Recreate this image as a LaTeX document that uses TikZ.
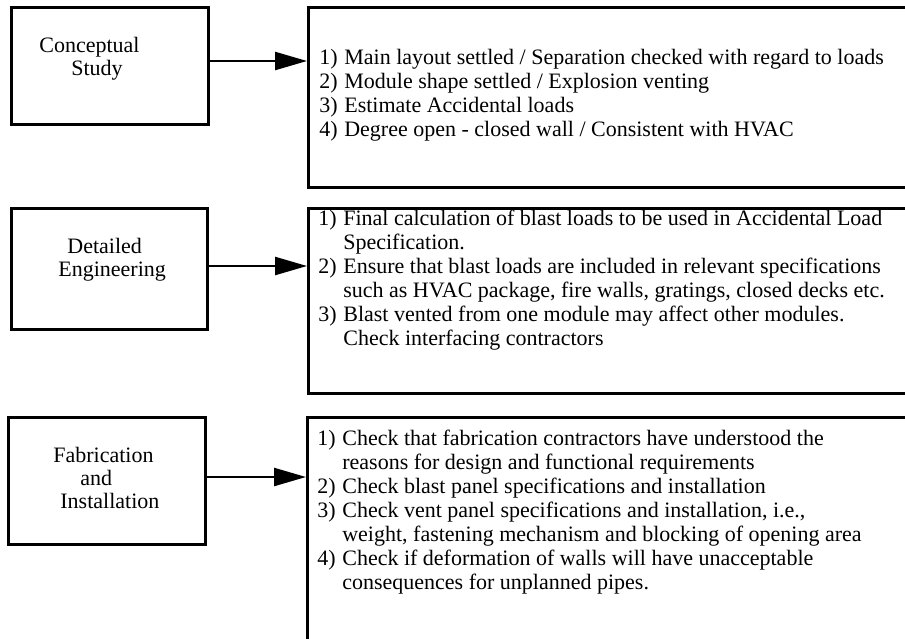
\documentclass[tikz,border=0pt]{standalone}
\usepackage{fontspec}
\setmainfont{Liberation Serif}
\usetikzlibrary{arrows.meta}
\begin{document}
\begin{tikzpicture}[x=0.5pt,y=-0.5pt,
  box/.style={draw,line width=1.5pt,anchor=north west,inner sep=0pt},
  ltext/.style={anchor=base west,inner sep=0pt,font=\fontsize{11}{11.6}\selectfont},
  rtext/.style={anchor=base west,inner sep=0pt,font=\fontsize{11}{12}\selectfont},
  flow/.style={line width=1.2pt,-{Triangle[length=16pt,width=9pt]}}]
\useasboundingbox[fill=white] (0,0) rectangle (905,638);
\clip (0,0) rectangle (905,638);

% left boxes
\node[box,minimum width=98.5pt,minimum height=58.5pt] (cs) at (10,6) {};
\node[box,minimum width=98pt,minimum height=60.5pt] (de) at (10,207) {};
\node[box,minimum width=98.5pt,minimum height=63.5pt] (fi) at (7,416) {};

% right boxes
\node[box,minimum width=304pt,minimum height=90pt] (r1) at (307,6) {};
\node[box,minimum width=304pt,minimum height=92.5pt] (r2) at (307,207) {};
\node[box,minimum width=304.5pt,minimum height=122pt] (r3) at (306,416) {};

% left texts
\node[ltext] (cst) at (39,52) {\begin{tabular}[t]{@{}l@{}}Conceptual\\\hspace*{16pt}Study\end{tabular}};
\node[ltext] (det) at (58,253) {\begin{tabular}[t]{@{}l@{}}\hspace*{4.5pt}Detailed\\Engineering\end{tabular}};
\node[ltext] (fit) at (53,462) {\begin{tabular}[t]{@{}l@{}}Fabrication\\\hspace*{13.5pt}and\\\hspace*{3.5pt}Installation\end{tabular}};

% right texts
\node[rtext] (r1t) at (319,64) {\begin{tabular}[t]{@{}l@{\hspace{3.3pt}}l@{}}
1) & Main layout settled / Separation checked with regard to loads\\
2) & Module shape settled / Explosion venting\\
3) & Estimate Accidental loads\\
4) & Degree open - closed wall / Consistent with HVAC
\end{tabular}};
\node[rtext] (r2t) at (318,225) {\begin{tabular}[t]{@{}l@{\hspace{3.3pt}}l@{}}
1) & Final calculation of blast loads to be used in Accidental Load\\
   & Specification.\\
2) & Ensure that blast loads are included in relevant specifications\\
   & such as HVAC package, fire walls, gratings, closed decks etc.\\
3) & Blast vented from one module may affect other modules.\\
   & Check interfacing contractors
\end{tabular}};
\node[rtext] (r3t) at (317,445) {\begin{tabular}[t]{@{}l@{\hspace{3.3pt}}l@{}}
1) & Check that fabrication contractors have understood the\\
   & reasons for design and functional requirements\\
2) & Check blast panel specifications and installation\\
3) & Check vent panel specifications and installation, i.e.,\\
   & weight, fastening mechanism and blocking of opening area\\
4) & Check if deformation of walls will have unacceptable\\
   & consequences for unplanned pipes.
\end{tabular}};

% connectors
\coordinate (a1) at (0,61);
\coordinate (a2) at (0,266);
\coordinate (a3) at (0,477);
\draw[flow] (cs.east |- a1) -- (r1.west |- a1);
\draw[flow] (de.east |- a2) -- (r2.west |- a2);
\draw[flow] (fi.east |- a3) -- (r3.west |- a3);
\end{tikzpicture}
\end{document}
